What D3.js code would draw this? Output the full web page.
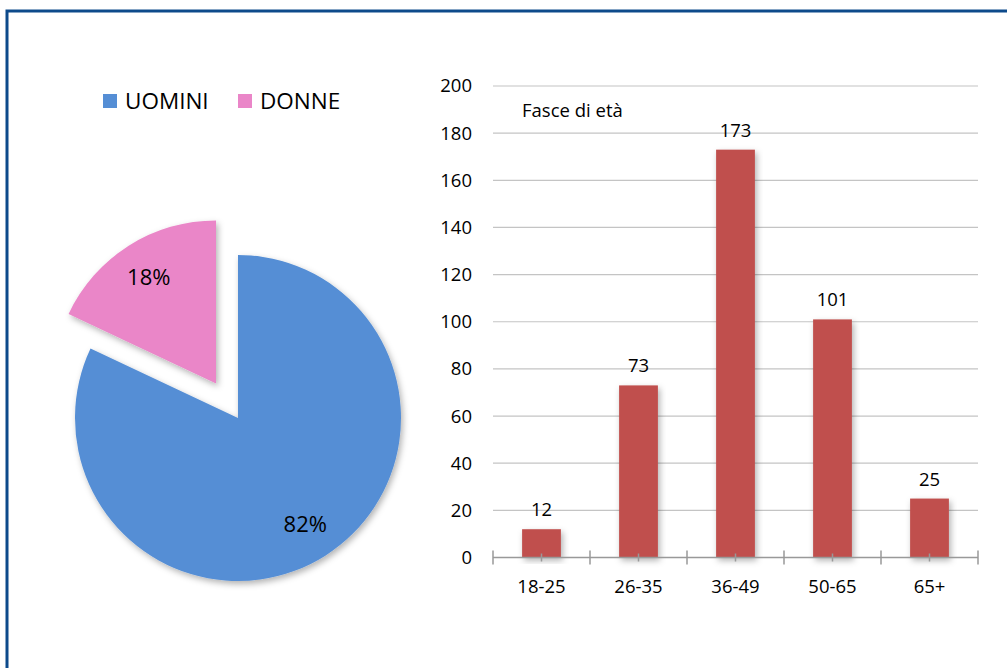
<!DOCTYPE html>
<html>
<head>
<meta charset="utf-8">
<script src="https://cdn.jsdelivr.net/npm/d3@7"></script>
<style>
  body { margin: 0; background: #fff; }
  text { font-family: "Open Sans", "Noto Sans", sans-serif; fill: #000; }
</style>
</head>
<body>
<svg id="vis" width="1007" height="668"></svg>
<script>
// pie data
const genders = ["UOMINI", "DONNE"];
const genderShare = [82, 18];
const genderColors = ["#558ed5", "#ea86c8"];

// bar data
const ageGroups = ["18-25", "26-35", "36-49", "50-65", "65+"];
const ageCounts = [12, 73, 173, 101, 25];
const yTicks = [0, 20, 40, 60, 80, 100, 120, 140, 160, 180, 200];

const svg = d3.select("svg#vis");

// frame
svg.append("rect")
  .attr("x", 7).attr("y", 11)
  .attr("width", 1100).attr("height", 700)
  .attr("fill", "none")
  .attr("stroke", "#0d4a8b")
  .attr("stroke-width", 3);

const defs = svg.append("defs");
const shadow = defs.append("filter").attr("id", "shadow")
  .attr("x", "-20%").attr("y", "-20%").attr("width", "140%").attr("height", "140%");
shadow.append("feDropShadow")
  .attr("dx", 2).attr("dy", 3).attr("stdDeviation", 3)
  .attr("flood-color", "#000").attr("flood-opacity", 0.3);

// ---- pie ----
const center = [238, 418];
const radius = 163;
const explode = 41;

const pie = d3.pie().sort(null).value(d => d);
const arcs = pie(genderShare);
const arc = d3.arc().innerRadius(0).outerRadius(radius);
const labelArc = d3.arc().innerRadius(radius * 0.77).outerRadius(radius * 0.77);

const gPie = svg.append("g").attr("transform", translate(center[0], center[1]));

const slices = gPie.selectAll("g.slice")
  .data(arcs)
  .enter().append("g")
  .attr("class", "slice")
  .attr("transform", (d, i) => {
    if (i === 0) return translate(0, 0);
    const a = (d.startAngle + d.endAngle) / 2;
    return translate(Math.sin(a) * explode, -Math.cos(a) * explode);
  });

slices.append("path")
  .attr("d", arc)
  .attr("fill", (d, i) => genderColors[i])
  .attr("filter", "url(#shadow)");

slices.append("text")
  .attr("transform", d => "translate(" + labelArc.centroid(d) + ")")
  .attr("text-anchor", "middle")
  .attr("dy", "0.35em")
  .style("font-size", "22px")
  .text(d => d.data + "%");

// legend
const legend = svg.append("g").attr("transform", translate(103, 94));
const legendX = [0, 135];
genders.forEach((name, i) => {
  legend.append("rect")
    .attr("x", legendX[i]).attr("y", 0)
    .attr("width", 14).attr("height", 14)
    .attr("fill", genderColors[i]);
  legend.append("text")
    .attr("x", legendX[i] + 22).attr("y", 14.5)
    .style("font-size", "22.5px")
    .text(name);
});

// ---- bar chart ----
const x = d3.scaleBand()
  .domain(ageGroups)
  .range([493, 978])
  .paddingInner(0.6)
  .paddingOuter(0.3);

const y = d3.scaleLinear()
  .domain([0, 200])
  .range([557.5, 86]);

const gBar = svg.append("g");

// gridlines
gBar.selectAll("line.grid")
  .data(yTicks.filter(t => t > 0))
  .enter().append("line")
  .attr("class", "grid")
  .attr("x1", 493).attr("x2", 978)
  .attr("y1", d => y(d)).attr("y2", d => y(d))
  .attr("stroke", "#c4c4c4")
  .attr("stroke-width", 1.2);

// y labels
gBar.selectAll("text.ytick")
  .data(yTicks)
  .enter().append("text")
  .attr("class", "ytick")
  .attr("x", 472)
  .attr("y", d => y(d))
  .attr("dy", "0.35em")
  .attr("text-anchor", "end")
  .style("font-size", "18.5px")
  .text(d => d);

// bars
gBar.selectAll("rect.bar")
  .data(ageCounts)
  .enter().append("rect")
  .attr("class", "bar")
  .attr("x", (d, i) => x(ageGroups[i]))
  .attr("width", x.bandwidth())
  .attr("y", d => y(d))
  .attr("height", d => y(0) - y(d))
  .attr("fill", "#c0504d")
  .attr("filter", "url(#shadow)");

// value labels
gBar.selectAll("text.value")
  .data(ageCounts)
  .enter().append("text")
  .attr("class", "value")
  .attr("x", (d, i) => x(ageGroups[i]) + x.bandwidth() / 2)
  .attr("y", d => y(d) - 13)
  .attr("text-anchor", "middle")
  .style("font-size", "18.5px")
  .text(d => d);

// x axis line and ticks
const step = x.step();
const x0 = 493;
gBar.append("line")
  .attr("x1", 493).attr("x2", 978)
  .attr("y1", y(0)).attr("y2", y(0))
  .attr("stroke", "#999").attr("stroke-width", 1.5);

gBar.selectAll("line.major")
  .data(d3.range(ageGroups.length + 1))
  .enter().append("line")
  .attr("class", "major")
  .attr("x1", i => x0 + i * step).attr("x2", i => x0 + i * step)
  .attr("y1", y(0) - 7).attr("y2", y(0) + 7)
  .attr("stroke", "#999").attr("stroke-width", 1.5);

gBar.selectAll("line.minor")
  .data(ageGroups)
  .enter().append("line")
  .attr("class", "minor")
  .attr("x1", d => x(d) + x.bandwidth() / 2).attr("x2", d => x(d) + x.bandwidth() / 2)
  .attr("y1", y(0) - 4).attr("y2", y(0) + 4)
  .attr("stroke", "#999").attr("stroke-width", 1.5);

gBar.selectAll("text.xtick")
  .data(ageGroups)
  .enter().append("text")
  .attr("class", "xtick")
  .attr("x", d => x(d) + x.bandwidth() / 2)
  .attr("y", 593)
  .attr("text-anchor", "middle")
  .style("font-size", "18.5px")
  .text(d => d);

// chart title
gBar.append("text")
  .attr("x", 522).attr("y", 117)
  .style("font-size", "18.5px")
  .text("Fasce di età");

function translate(x, y) {
  return "translate(" + String(x) + "," + String(y) + ")";
}
</script>
</body>
</html>
